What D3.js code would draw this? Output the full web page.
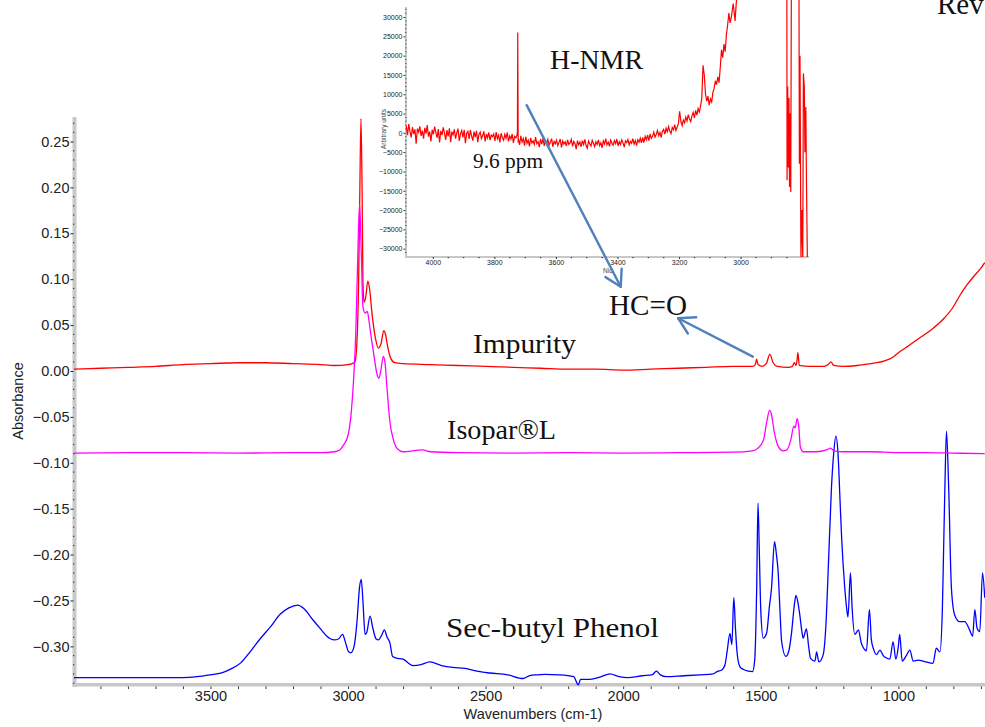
<!DOCTYPE html>
<html>
<head>
<meta charset="utf-8">
<script src="https://cdn.jsdelivr.net/npm/d3@7"></script>
<style>
body { margin: 0; background: #fff; }
.tick text { font-family: "Liberation Sans", Arial, sans-serif; fill: #222; }
.serif { font-family: "Liberation Serif", "Times New Roman", serif; fill: #111; }
</style>
</head>
<body>
<div id="chart"></div>
<script>
// FTIR spectra: [wavenumber cm-1, absorbance]
var impurity = [[3996, 0.002], [3900, 0.003], [3800, 0.004], [3700, 0.005], [3600, 0.007], [3500, 0.008], [3400, 0.009],
    [3300, 0.009], [3200, 0.008], [3100, 0.007], [3050, 0.006], [3000, 0.007], [2985, 0.008], [2975, 0.010], [2968, 0.03],
    [2962, 0.09], [2957, 0.20], [2953, 0.275], [2949, 0.20], [2946, 0.10], [2942, 0.075], [2936, 0.080], [2928, 0.098],
    [2922, 0.090], [2912, 0.06], [2900, 0.035], [2890, 0.025], [2880, 0.030], [2870, 0.044], [2864, 0.040], [2855, 0.025],
    [2845, 0.014], [2830, 0.009], [2800, 0.008], [2700, 0.007], [2600, 0.006], [2500, 0.005], [2400, 0.004], [2300, 0.003],
    [2200, 0.002], [2100, 0.002], [2000, 0.001], [1900, 0.002], [1800, 0.003], [1700, 0.004], [1600, 0.005], [1530, 0.005],
    [1520, 0.007], [1515, 0.013], [1510, 0.007], [1495, 0.005], [1480, 0.008], [1467, 0.018], [1455, 0.009], [1440, 0.005],
    [1400, 0.004], [1385, 0.005], [1378, 0.009], [1372, 0.006], [1368, 0.012], [1365, 0.020], [1360, 0.006], [1320, 0.005],
    [1270, 0.005], [1255, 0.007], [1245, 0.010], [1235, 0.006], [1200, 0.005], [1150, 0.006], [1100, 0.008], [1078, 0.009],
    [1050, 0.011], [1020, 0.015], [995, 0.021], [960, 0.028], [923, 0.036], [880, 0.045], [832, 0.058], [800, 0.070],
    [777, 0.082], [750, 0.094], [723, 0.104], [700, 0.112], [686, 0.118]];

var isopar = [[3996, -0.0895], [3800, -0.089], [3600, -0.089], [3400, -0.0895], [3200, -0.089], [3100, -0.089], [3050, -0.088],
    [3030, -0.086], [3015, -0.08], [3000, -0.07], [2990, -0.05], [2980, -0.01], [2972, 0.04], [2965, 0.12], [2958, 0.182],
    [2952, 0.13], [2946, 0.07], [2938, 0.063], [2930, 0.065], [2924, 0.055], [2915, 0.035], [2905, 0.015], [2895, -0.003],
    [2888, -0.008], [2880, 0.002], [2872, 0.016], [2866, 0.010], [2858, -0.02], [2848, -0.055], [2835, -0.075], [2820, -0.085],
    [2800, -0.088], [2730, -0.086], [2700, -0.088], [2600, -0.089], [2400, -0.0895], [2200, -0.089], [2000, -0.0895],
    [1800, -0.089], [1600, -0.0885], [1530, -0.087], [1510, -0.084], [1490, -0.075], [1478, -0.055], [1468, -0.043],
    [1462, -0.046], [1450, -0.068], [1435, -0.083], [1420, -0.087], [1405, -0.086], [1390, -0.074], [1380, -0.060],
    [1375, -0.062], [1368, -0.052], [1362, -0.060], [1356, -0.083], [1345, -0.088], [1300, -0.088], [1260, -0.086],
    [1246, -0.084], [1235, -0.087], [1200, -0.088], [1100, -0.088], [1000, -0.089], [900, -0.089], [800, -0.0895], [686, -0.09]];

var phenol = [[3996, -0.334], [3800, -0.334], [3700, -0.334], [3600, -0.334], [3549, -0.333], [3500, -0.331], [3460, -0.329],
    [3429, -0.325], [3390, -0.318], [3356, -0.306], [3320, -0.292], [3280, -0.278], [3247, -0.265], [3215, -0.258], [3183, -0.255],
    [3160, -0.259], [3128, -0.271], [3100, -0.281], [3077, -0.289], [3050, -0.293], [3035, -0.292], [3020, -0.287], [3010, -0.295],
    [2998, -0.306], [2990, -0.307], [2978, -0.300], [2968, -0.275], [2958, -0.235], [2952, -0.227], [2946, -0.250], [2938, -0.287],
    [2932, -0.285], [2920, -0.267], [2910, -0.280], [2898, -0.292], [2890, -0.293], [2878, -0.288], [2868, -0.282], [2858, -0.290],
    [2848, -0.296], [2838, -0.311], [2820, -0.313], [2800, -0.314], [2764, -0.321], [2735, -0.320], [2703, -0.317], [2660, -0.321],
    [2619, -0.323], [2575, -0.324], [2532, -0.327], [2485, -0.329], [2420, -0.331], [2364, -0.335], [2340, -0.332], [2313, -0.331],
    [2285, -0.3305], [2230, -0.331], [2180, -0.333], [2163, -0.342], [2155, -0.336], [2121, -0.336], [2080, -0.333], [2048, -0.330],
    [2015, -0.333], [1983, -0.334], [1930, -0.332], [1895, -0.331], [1879, -0.327], [1865, -0.331], [1843, -0.333], [1780, -0.332],
    [1720, -0.331], [1674, -0.330], [1656, -0.327], [1643, -0.326], [1630, -0.320], [1622, -0.305], [1612, -0.286], [1605, -0.298],
    [1598, -0.247], [1592, -0.280], [1586, -0.307], [1576, -0.322], [1564, -0.325], [1545, -0.327], [1530, -0.3275], [1522, -0.315],
    [1515, -0.240], [1510, -0.144], [1505, -0.200], [1500, -0.260], [1491, -0.291], [1479, -0.286], [1468, -0.255], [1461, -0.237],
    [1450, -0.186], [1443, -0.200], [1437, -0.218], [1430, -0.262], [1424, -0.295], [1409, -0.311], [1398, -0.305], [1388, -0.285],
    [1378, -0.255], [1372, -0.2445], [1365, -0.252], [1358, -0.266], [1350, -0.285], [1346, -0.291], [1334, -0.281], [1326, -0.300],
    [1319, -0.313], [1303, -0.316], [1297, -0.306], [1289, -0.317], [1273, -0.309], [1262, -0.270], [1255, -0.218], [1243, -0.127],
    [1235, -0.090], [1227, -0.071], [1219, -0.091], [1212, -0.140], [1206, -0.182], [1195, -0.235], [1188, -0.258], [1183, -0.268],
    [1174, -0.220], [1168, -0.258], [1158, -0.287], [1145, -0.282], [1135, -0.296], [1128, -0.301], [1116, -0.305], [1105, -0.260],
    [1098, -0.293], [1090, -0.303], [1079, -0.309], [1067, -0.304], [1055, -0.310], [1040, -0.313], [1031, -0.314], [1019, -0.295],
    [1009, -0.314], [1000, -0.300], [995, -0.287], [986, -0.316], [971, -0.310], [958, -0.304], [946, -0.316], [928, -0.315],
    [900, -0.317], [874, -0.3185], [862, -0.302], [849, -0.306], [840, -0.260], [837, -0.218], [831, -0.130], [825, -0.0655],
    [817, -0.127], [807, -0.237], [795, -0.266], [777, -0.273], [759, -0.273], [741, -0.282], [730, -0.289], [722, -0.260],
    [714, -0.280], [704, -0.284], [694, -0.220], [686, -0.247]];

var yTicks = [0.25, 0.20, 0.15, 0.10, 0.05, 0.00, -0.05, -0.10, -0.15, -0.20, -0.25, -0.30];
var xTicks = [3500, 3000, 2500, 2000, 1500, 1000];

// H-NMR inset trace, sampled every 4 units from 4086 down to 3030
var nmrStart = 4086, nmrStep = 4;
var nmrNoise = [
    1800, -600, 2300, 400, -1200, 1500, -300, 900, -2800, 1100, 200, 1700, -800, 600, -1500, 1300, -200, 2000, -1000, 300,
    -2200, 800, -400, 1600, 100, -1300, 1000, -2500, 500, -600, 1400, -100, -1800, 700, -900, 1200, -2400, 300, -500, 900,
    -1500, 0, 1100, -2100, -300, 600, -1200, 800, -2700, -100, 400, -1600, 700, -800, -2000, 300, -1100, 500, -2400, -400,
    200, -1500, -700, 400, -2200, -300, -1300, 100, -1900, -600, -1000,
    -300, -2100, 200, -1500, -600, -2500, -100, -1200, -1900, -400, -1400, 100, -2200, -800, -1600, -300, -2600, -900, -1300, -500,
    -1600, -3100, -800, -2400, -1500, -3300, -1000, -2700, -1900, -3500, -1300, -2600, -2100, -3000, -1100, -2800, -2300, -3700, -1600, -2900,
    -1400, -3400, -2000, -2700, -1700, -3200, -2400, -1500, -3600, -2200, -2800, -1900, -3300, -2500, -1600, -3800, -2100, -2900, -2300, -3400,
    -1800, -3000, -2600, -1700, -3500, -2200, -2800, -4200, -2000, -3100, -2400,
    -3600, -2000, -3000, -1700, -3300, -4000, -2100, -2800, -3400, -1900, -2700, -3600, -2300, -3000, -1800, -3300, -2600, -3900, -2100, -2900,
    -1500, -3100, -2400, -3500, -1900, -2700, -3200, -2000, -2800, -1600, -3400, -2300, -3000, -1800, -2600, -3700, -2100, -2500, -1700, -3100,
    -2200, -2700, -1500, -2900, -2000, -3300, -1800, -2400, -1400, -2600,
    -1200, -2500, -900, -1800, -600, -2000, -300, -1400, -900, 200, -1100, -400, 600, -700, 100, -1200, 400, 900, -300, 1200,
    300, 1600, 500, -200, 1400, 800, 2100, 600, 1500,
    2400, 5600, 3000, 1900, 3300, 2600, 4100, 3100, 4700, 3600, 2900, 4400, 5300, 3900, 5800, 4600, 6300, 5400, 7000,
    9000, 17500, 15000, 10000, 8200, 9500, 7200, 8800, 8000, 10500, 11500, 13500, 12500, 14500, 13000, 17000, 21500, 19500,
    23000, 21000, 25500, 28000, 31000, 28500, 30000];
var nmrSpike = [[3725, 600], [3724, 26000], [3723.2, 10000], [3722.6, -2500]];
var nmrTail = [[3024, 33500], [3018, 29000], [3012, 36000], [3000, 60000], [2860, 60000], [2850, 60000], [2849, -12300],
    [2847, 12000], [2845, -9000], [2843, 9000], [2841, -14000], [2839, 5000], [2837, -15300], [2835, 40000], [2825, 60000],
    [2811, 60000], [2809, -8000], [2807, 20000], [2804, -32500], [2801, -20000], [2798, -33000], [2796, 15400], [2793, 12000],
    [2791, -5000], [2788, 6700], [2786, -12700], [2783, -33000]];
var nmrYTicks = [30000, 25000, 20000, 15000, 10000, 5000, 0, -5000, -10000, -15000, -20000, -25000, -30000];
var nmrXTicks = [4000, 3800, 3600, 3400, 3200, 3000];

var svgWidth = 985;
var svgHeight = 727;

var svg = d3.select("#chart")
    .append("svg")
    .attr("width", svgWidth)
    .attr("height", svgHeight);

// main scales
var x = d3.scaleLinear().domain([3996, 685]).range([74, 985]);
var y = d3.scaleLinear().domain([-0.341, 0.2767]).range([684, 117]);

// gray axis bars
svg.append("rect").attr("x", 72.5).attr("y", 117).attr("width", 4).attr("height", 570).attr("fill", "#c8c8c8");
svg.append("rect").attr("x", 72.5).attr("y", 683).attr("width", 913).attr("height", 3.5).attr("fill", "#c8c8c8");

// y axis: majors, labels, dotted minors
var leftAxis = d3.axisLeft(y).tickValues(yTicks).tickSize(3).tickPadding(1).tickFormat(d3.format(".2f"));
var yAx = svg.append("g").attr("transform", "translate(73.5,0)").call(leftAxis);
yAx.select(".domain").remove();
yAx.selectAll("line").attr("stroke", "#222");
yAx.selectAll("text").style("font-size", "14.5px");

var yMinor = d3.range(-34, 28).filter(d => d % 5 != 0).map(d => d / 100);
svg.append("g").selectAll("rect")
    .data(yMinor)
    .enter()
    .append("rect")
    .attr("x", 73)
    .attr("y", d => y(d) - 0.5)
    .attr("width", 1.2)
    .attr("height", 1.2)
    .attr("fill", "#333");

// x axis
var xMinor = d3.range(39, 6, -1).map(d => d * 100);
var xAx = svg.append("g").attr("transform", "translate(0,686.5)")
    .call(d3.axisBottom(x).tickValues(xMinor).tickSize(2.5).tickFormat(""));
xAx.select(".domain").remove();
xAx.selectAll("line").attr("stroke", "#333");

var xLab = svg.append("g").attr("transform", "translate(0,686)")
    .call(d3.axisBottom(x).tickValues(xTicks).tickSize(0).tickPadding(4.4).tickFormat(d3.format("d")));
xLab.select(".domain").remove();
xLab.selectAll("text").style("font-size", "14.5px");

svg.append("text")
    .attr("transform", "translate(23,401) rotate(-90)")
    .attr("text-anchor", "middle")
    .style("font-family", "Liberation Sans, Arial, sans-serif")
    .style("font-size", "14.5px")
    .attr("fill", "#222")
    .text("Absorbance");

svg.append("text")
    .attr("x", 533)
    .attr("y", 719)
    .attr("text-anchor", "middle")
    .style("font-family", "Liberation Sans, Arial, sans-serif")
    .style("font-size", "14.5px")
    .attr("fill", "#222")
    .text("Wavenumbers (cm-1)");

// spectra
var line = d3.line().x(d => x(d[0])).y(d => y(d[1])).curve(d3.curveMonotoneX);
svg.append("path").datum(phenol).attr("d", line).attr("fill", "none").attr("stroke", "#0000ff").attr("stroke-width", 1.3);
svg.append("path").datum(impurity).attr("d", line).attr("fill", "none").attr("stroke", "#ff0000").attr("stroke-width", 1.3);
svg.append("path").datum(isopar).attr("d", line).attr("fill", "none").attr("stroke", "#ff00ff").attr("stroke-width", 1.3);

// ---- H-NMR inset ----
var nx = d3.scaleLinear().domain([4087, 2781]).range([406, 808]);
var ny = d3.scaleLinear().domain([-31900, 32600]).range([256, 7]);

var nmr = nmrNoise.map((v, i) => [nmrStart - i * nmrStep, v])
    .concat(nmrSpike)
    .sort((a, b) => b[0] - a[0])
    .concat(nmrTail);

svg.append("defs").append("clipPath").attr("id", "nmrClip")
    .append("rect").attr("x", 406).attr("y", 0).attr("width", 403).attr("height", 257);

svg.append("rect").attr("x", 405).attr("y", 7).attr("width", 2).attr("height", 251).attr("fill", "#c8c8c8");
svg.append("rect").attr("x", 405).attr("y", 256).attr("width", 404).attr("height", 2).attr("fill", "#c8c8c8");

var nyAx = svg.append("g").attr("transform", "translate(405.5,0)")
    .call(d3.axisLeft(ny).tickValues(nmrYTicks).tickSize(2).tickPadding(1).tickFormat(d3.format("d")));
nyAx.select(".domain").remove();
nyAx.selectAll("line").attr("stroke", "#333");
nyAx.selectAll("text").style("font-size", "7px").attr("fill", "#444");

var nyMinor = d3.range(-31, 33).filter(d => d % 5 != 0).map(d => d * 1000);
svg.append("g").selectAll("rect")
    .data(nyMinor)
    .enter()
    .append("rect")
    .attr("x", 405.3)
    .attr("y", d => ny(d) - 0.5)
    .attr("width", 1)
    .attr("height", 1)
    .attr("fill", "#333");

var nxMinor = d3.range(80, 55, -1).map(d => d * 50).filter(d => d % 200 != 0);
svg.append("g").selectAll("rect")
    .data(nxMinor)
    .enter()
    .append("rect")
    .attr("x", d => nx(d) - 0.5)
    .attr("y", 257)
    .attr("width", 1.2)
    .attr("height", 1.2)
    .attr("fill", "#333");

var nxAx = svg.append("g").attr("transform", "translate(0,257)")
    .call(d3.axisBottom(nx).tickValues(nmrXTicks).tickSize(2).tickPadding(1.5).tickFormat(d3.format("d")));
nxAx.select(".domain").remove();
nxAx.selectAll("line").attr("stroke", "#333");
nxAx.selectAll("text").style("font-size", "7px").attr("fill", "#444");

svg.append("text")
    .attr("transform", "translate(386,129) rotate(-90)")
    .attr("text-anchor", "middle")
    .style("font-family", "Liberation Sans, Arial, sans-serif")
    .style("font-size", "6.5px")
    .attr("fill", "#444")
    .text("Arbitrary units");

svg.append("text")
    .attr("x", 603)
    .attr("y", 273)
    .style("font-family", "Liberation Sans, Arial, sans-serif")
    .style("font-size", "6.5px")
    .attr("fill", "#444")
    .text("Nic");

var nline = d3.line().x(d => nx(d[0])).y(d => ny(d[1]));
svg.append("path").datum(nmr).attr("d", nline)
    .attr("clip-path", "url(#nmrClip)")
    .attr("fill", "none").attr("stroke", "#ff0000").attr("stroke-width", 1.2);

// ---- text annotations ----
function label(txt, px, py, size, len) {
    var t = svg.append("text").attr("class", "serif")
        .attr("x", px).attr("y", py)
        .style("font-size", size + "px")
        .text(txt);
    if (len) t.attr("textLength", len).attr("lengthAdjust", "spacingAndGlyphs");
    return t;
}
label("H-NMR", 550, 69, 27, 93);
label("9.6 ppm", 473, 168, 20, 70);
label("HC=O", 609, 315, 29, 78);
label("Impurity", 473, 353, 27, 103);
label("Isopar\u00AEL", 447, 439, 27, 109);
label("Sec-butyl Phenol", 446, 637, 27, 213);
label("Rev", 937, 14, 29);

// arrows
var arrowColor = "#4f81bd";
function arrow(x1, y1, x2, y2) {
    var g = svg.append("g").attr("stroke", arrowColor).attr("stroke-width", 2.4).attr("fill", "none").attr("stroke-linecap", "round");
    g.append("line").attr("x1", x1).attr("y1", y1).attr("x2", x2).attr("y2", y2);
    var a = Math.atan2(y2 - y1, x2 - x1);
    [0.53, -0.53].forEach(function (da) {
        g.append("line")
            .attr("x1", x2).attr("y1", y2)
            .attr("x2", x2 - 18 * Math.cos(a + da))
            .attr("y2", y2 - 18 * Math.sin(a + da));
    });
}
arrow(nx(3695), ny(7176), x(2009), y(0.0918));
arrow(x(1529), y(0.0156), x(1800), y(0.0574));
</script>
</body>
</html>
